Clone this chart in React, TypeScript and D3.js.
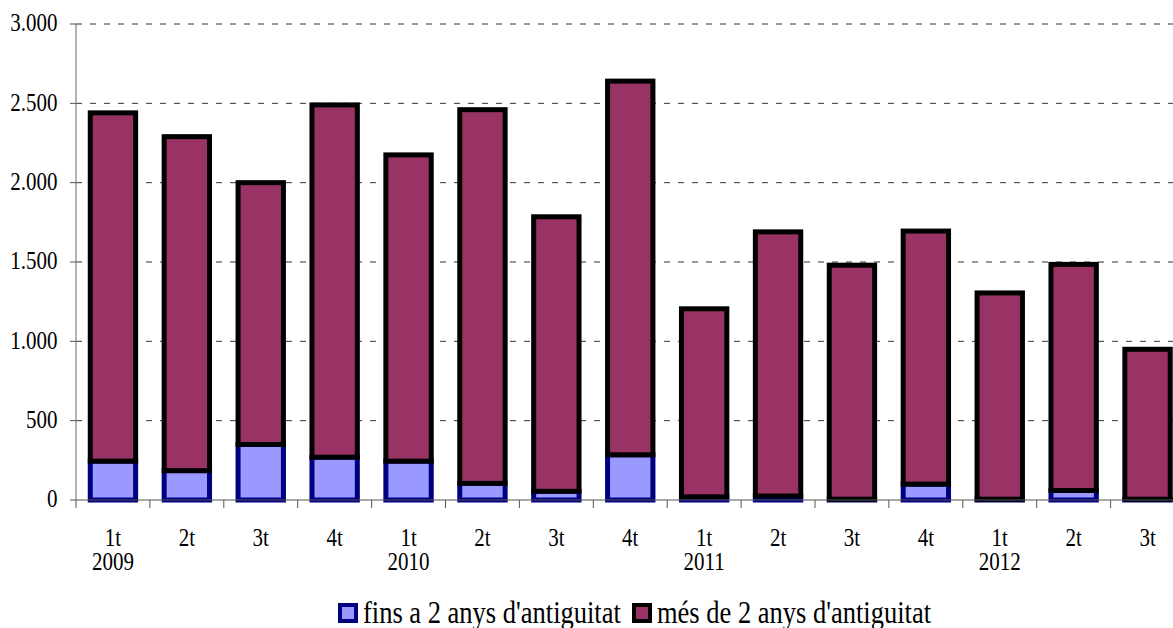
import React from "react";
import * as d3 from "d3";

const quarters = ["1t", "2t", "3t", "4t", "1t", "2t", "3t", "4t", "1t", "2t", "3t", "4t", "1t", "2t", "3t"];
const years = ["2009", "", "", "", "2010", "", "", "", "2011", "", "", "", "2012", "", ""];
const finsA2 = [245, 185, 350, 270, 245, 105, 55, 285, 20, 25, 5, 100, 5, 60, 5];
const mesDe2 = [2195, 2105, 1650, 2220, 1930, 2355, 1730, 2355, 1185, 1665, 1475, 1595, 1300, 1425, 945];
const yTicks = [0, 500, 1000, 1500, 2000, 2500, 3000];
const seriesNames = ["fins a 2 anys d'antiguitat", "més de 2 anys d'antiguitat"];

const fmt = (v: number) => (v >= 1000 ? d3.format(",")(v).replace(/,/g, ".") : String(v));

const FONT = '"Liberation Serif", "Times New Roman", serif';

function T({ x, y, size, anchor, children }: { x: number; y: number; size: number; anchor?: string; children: React.ReactNode }) {
  return (
    <text
      transform={`translate(${x},${y}) scale(1,1.17)`}
      fontSize={size}
      textAnchor={anchor || "start"}
      fill="#000"
      style={{ fontFamily: FONT }}
    >
      {children}
    </text>
  );
}

export default function App() {
  const W = 1173, H = 628;
  const left = 76, step = 73.9;
  const x = d3.scaleBand<number>().domain(d3.range(quarters.length)).range([left, left + step * quarters.length]).paddingInner(0.386).paddingOuter(0.193);
  const y = d3.scaleLinear().domain([0, 3000]).range([500, 24]);
  return (
    <svg width={W} height={H} style={{ position: "absolute", left: 0, top: 0, background: "#fff" }}>
      {yTicks.filter(t => t > 0).map(t => (
        <line key={t} x1={left} x2={W} y1={y(t)} y2={y(t)} stroke="#333" strokeWidth={1} strokeDasharray="6,8" />
      ))}
      {yTicks.map(t => (
        <g key={"yt" + t}>
          <line x1={left - 6} x2={left} y1={y(t)} y2={y(t)} stroke="#555" />
          <T x={57.5} y={y(t) + 7.3} size={21} anchor="end">{fmt(t)}</T>
        </g>
      ))}
      {quarters.map((q, i) => {
        const bx = x(i)!;
        const bw = x.bandwidth();
        return (
          <g key={"b" + i}>
            <rect x={bx} y={y(finsA2[i])} width={bw} height={y(0) - y(finsA2[i])} fill="#9999FF" stroke="#000080" strokeWidth={5} />
            <rect x={bx} y={y(finsA2[i] + mesDe2[i])} width={bw} height={y(finsA2[i]) - y(finsA2[i] + mesDe2[i])} fill="#993366" stroke="#000" strokeWidth={5} />
          </g>
        );
      })}
      <line x1={left} x2={left} y1={y(3000)} y2={y(0)} stroke="#666" strokeWidth={1} />
      <line x1={left} x2={W} y1={y(0)} y2={y(0)} stroke="#555" strokeWidth={1} />
      {d3.range(quarters.length + 1).map(i => (
        <line key={"xt" + i} x1={left + i * step} x2={left + i * step} y1={y(0)} y2={y(0) + 8} stroke="#555" />
      ))}
      {quarters.map((q, i) => {
        const cx = x(i)! + x.bandwidth() / 2;
        return (
          <g key={"xl" + i}>
            <T x={cx} y={545.5} size={21} anchor="middle">{q}</T>
            {years[i] && <T x={cx} y={570} size={21} anchor="middle">{years[i]}</T>}
          </g>
        );
      })}
      <g>
        <rect x={340} y={605} width={16} height={16} fill="#9999FF" stroke="#000080" strokeWidth={4} />
        <T x={363} y={623} size={26.5}>{seriesNames[0]}</T>
        <rect x={634} y={605} width={16} height={16} fill="#993366" stroke="#000" strokeWidth={4} />
        <T x={657} y={623} size={26.5}>{seriesNames[1]}</T>
      </g>
    </svg>
  );
}
